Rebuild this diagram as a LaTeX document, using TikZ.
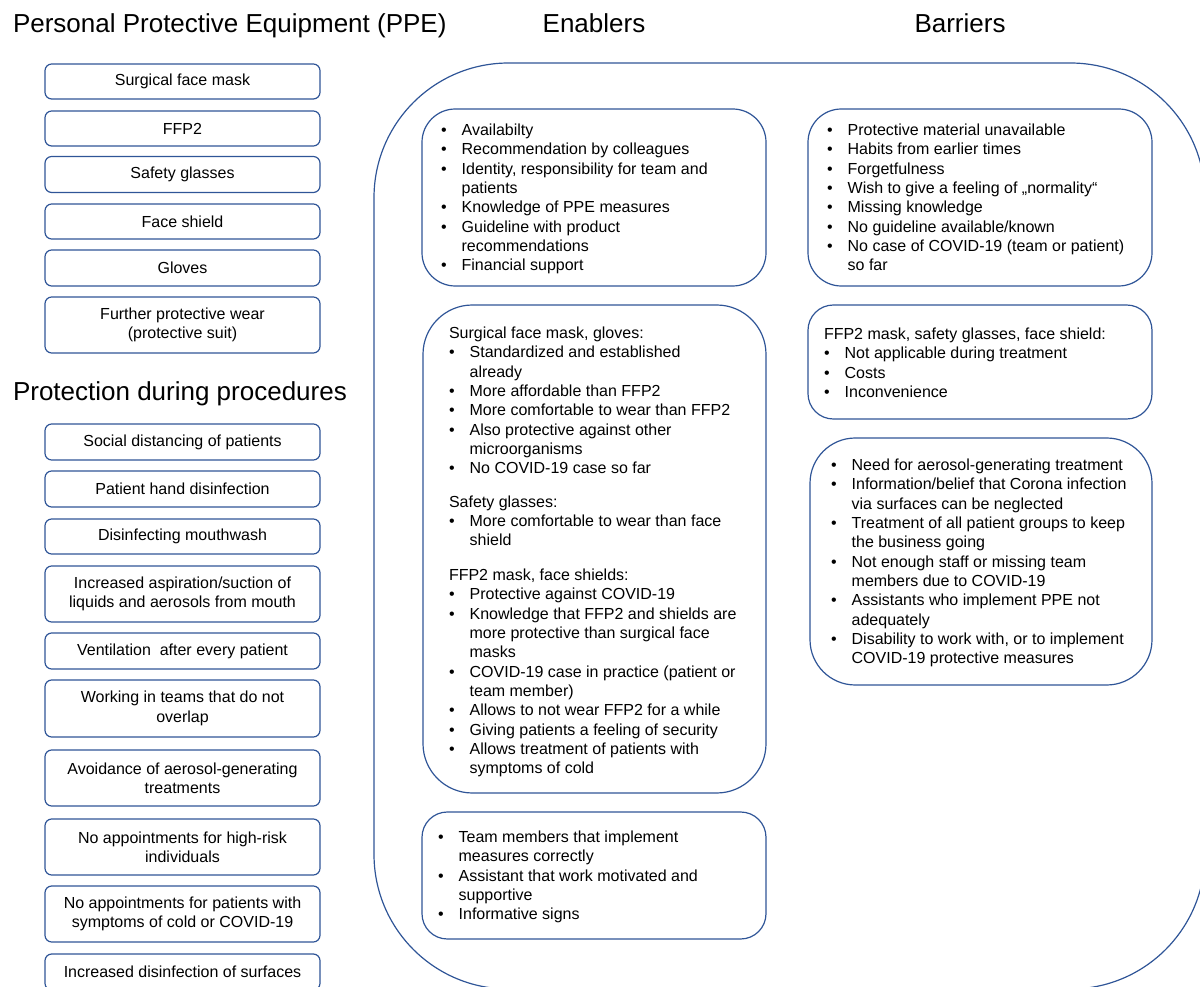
\documentclass[tikz,border=0pt]{standalone}
\usepackage{fontspec}
\setmainfont{Liberation Sans}
\definecolor{bblue}{RGB}{47,85,151}
\newcommand\bul{\makebox[15.5pt][l]{\textbullet}}
\newcommand\ind{\hspace*{15.5pt}}
\begin{document}
\begin{tikzpicture}[x=0.75pt,y=-0.75pt,
  every node/.style={inner sep=0pt, outer sep=0pt},
  ppe/.style={draw=bblue, line width=0.9pt, rounded corners=5pt, minimum width=275*0.75pt, align=center, font=\fontsize{12}{14.5}\selectfont},
  cbox/.style={draw=bblue, line width=0.9pt},
  lst/.style={anchor=north west, align=left, font=\fontsize{12}{14.5}\selectfont},
  ttl/.style={anchor=base, font=\fontsize{19.5}{23}\selectfont}]
\useasboundingbox (0,0) rectangle (1200,987);

% titles
\node[ttl, anchor=base west] (tppe) at (13,33) {Personal Protective Equipment (PPE)};
\node[ttl] (ten) at (594,33) {Enablers};
\node[ttl] (tba) at (960,33) {Barriers};
\node[ttl, anchor=base west] (tpr) at (13,401) {Protection during procedures};

% PPE boxes
\node[ppe, minimum height=35*0.75pt] (p1) at (182.5,81.5) {Surgical face mask};
\node[ppe, minimum height=35*0.75pt] (p2) at (182.5,128.5) {FFP2};
\node[ppe, minimum height=36*0.75pt] (p3) at (182.5,174.5) {Safety glasses};
\node[ppe, minimum height=35*0.75pt] (p4) at (182.5,221.5) {Face shield};
\node[ppe, minimum height=36*0.75pt] (p5) at (182.5,268) {Gloves};
\node[ppe, minimum height=56*0.75pt] (p6) at (182.5,325) {Further protective wear\\(protective suit)};

% procedure boxes
\node[ppe, minimum height=36*0.75pt] (q1) at (182.5,442) {Social distancing of patients};
\node[ppe, minimum height=36*0.75pt] (q2) at (182.5,489) {Patient hand disinfection};
\node[ppe, minimum height=35*0.75pt] (q3) at (182.5,536.5) {Disinfecting mouthwash};
\node[ppe, minimum height=56*0.75pt] (q4) at (182.5,594) {Increased aspiration/suction of\\liquids and aerosols from mouth};
\node[ppe, minimum height=36*0.75pt] (q5) at (182.5,651) {Ventilation~\ after every patient};
\node[ppe, minimum height=57*0.75pt] (q6) at (182.5,708.5) {Working in teams that do not\\overlap};
\node[ppe, minimum height=56*0.75pt] (q7) at (182.5,778) {Avoidance of aerosol-generating\\treatments};
\node[ppe, minimum height=56*0.75pt] (q8) at (182.5,847) {No appointments for high-risk\\individuals};
\node[ppe, minimum height=56*0.75pt] (q9) at (182.5,914) {No appointments for patients with\\symptoms of cold or COVID-19};
\node[ppe, minimum height=36*0.75pt] (q10) at (182.5,972) {Increased disinfection of surfaces};

% big frame
\node[draw=bblue, line width=0.9pt, rounded corners=101pt, minimum width=831*0.75pt, minimum height=926*0.75pt] (frame) at (789.5,526) {};

% content boxes
\node[cbox, rounded corners=25pt, minimum width=344*0.75pt, minimum height=177*0.75pt] (e1) at (594,197.5) {};
\node[cbox, rounded corners=25pt, minimum width=344*0.75pt, minimum height=177*0.75pt] (b1) at (980,197.5) {};
\node[cbox, rounded corners=37pt, minimum width=343*0.75pt, minimum height=488*0.75pt] (e2) at (594.5,549) {};
\node[cbox, rounded corners=19pt, minimum width=344*0.75pt, minimum height=114*0.75pt] (b2) at (980,362) {};
\node[cbox, rounded corners=34pt, minimum width=342*0.75pt, minimum height=247*0.75pt] (b3) at (981,561.5) {};
\node[cbox, rounded corners=19pt, minimum width=344*0.75pt, minimum height=127*0.75pt] (e3) at (594,875.5) {};

% texts
\node[lst] (e1t) at (441,122) {\strut\bul Availabilty\\
\bul Recommendation by colleagues\\
\bul Identity, responsibility for team and\\
\ind patients\\
\bul Knowledge of PPE measures\\
\bul Guideline with product\\
\ind recommendations\\
\bul Financial support};

\node[lst] (b1t) at (827,122) {\strut\bul Protective material unavailable\\
\bul Habits from earlier times\\
\bul Forgetfulness\\
\bul Wish to give a feeling of „normality“\\
\bul Missing knowledge\\
\bul No guideline available/known\\
\bul No case of COVID-19 (team or patient)\\
\ind so far};

\node[lst] (e2t) at (449,325) {\strut Surgical face mask, gloves:\\
\bul Standardized and established\\
\ind already\\
\bul More affordable than FFP2\\
\bul More comfortable to wear than FFP2\\
\bul Also protective against other\\
\ind microorganisms\\
\bul No COVID-19 case so far\\[10.5pt]
Safety glasses:\\
\bul More comfortable to wear than face\\
\ind shield\\[11.5pt]
FFP2 mask, face shields:\\
\bul Protective against COVID-19\\
\bul Knowledge that FFP2 and shields are\\
\ind more protective than surgical face\\
\ind masks\\
\bul COVID-19 case in practice (patient or\\
\ind team member)\\
\bul Allows to not wear FFP2 for a while\\
\bul Giving patients a feeling of security\\
\bul Allows treatment of patients with\\
\ind symptoms of cold};

\node[lst] (b2t) at (824,326) {\strut FFP2 mask, safety glasses, face shield:\\
\bul Not applicable during treatment\\
\bul Costs\\
\bul Inconvenience};

\node[lst] (b3t) at (831,457) {\strut\bul Need for aerosol-generating treatment\\
\bul Information/belief that Corona infection\\
\ind via surfaces can be neglected\\
\bul Treatment of all patient groups to keep\\
\ind the business going\\
\bul Not enough staff or missing team\\
\ind members due to COVID-19\\
\bul Assistants who implement PPE not\\
\ind adequately\\
\bul Disability to work with, or to implement\\
\ind COVID-19 protective measures};

\node[lst] (e3t) at (438,829) {\strut\bul Team members that implement\\
\ind measures correctly\\
\bul Assistant that work motivated and\\
\ind supportive\\
\bul Informative signs};
\end{tikzpicture}
\end{document}
